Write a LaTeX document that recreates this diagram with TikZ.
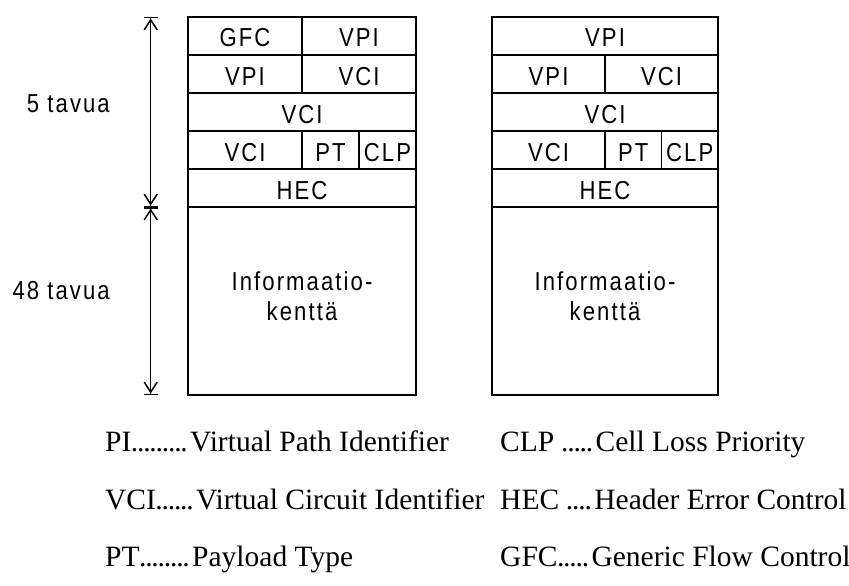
\documentclass[tikz,border=0pt]{standalone}
\usepackage{fontspec}
\setmainfont{Liberation Serif}
\newfontfamily\boxfont{Liberation Sans}[FakeStretch=0.85, LetterSpace=8]
\usetikzlibrary{arrows.meta}
\newcommand\dd{\makebox[6.2pt][c]{.}}
\tikzset{
  cell/.style={draw, line width=1.8pt, minimum height=38pt, inner sep=0pt, outer sep=0pt,
    text height=22pt, text depth=0pt, font=\boxfont\fontsize{26}{30}\selectfont},
  w1/.style={minimum width=114pt},
  w2/.style={minimum width=228pt},
  w3/.style={minimum width=57pt},
  v1/.style={minimum width=113pt},
  v2/.style={minimum width=226pt},
  v3/.style={minimum width=56.5pt},
  infocell/.style={draw, line width=1.8pt, minimum height=188pt, inner sep=0pt, outer sep=0pt},
  infotext/.style={align=center, inner sep=0pt, font=\boxfont\fontsize{26}{30}\selectfont},
  sidelabel/.style={anchor=east, inner sep=0pt, font=\boxfont\fontsize{26}{30}\selectfont},
  legend/.style={anchor=base west, inner sep=0pt, font=\fontsize{29.5}{34}\selectfont},
  dimline/.style={line width=1.3pt},
  dimtips/.style={{Bar[width=14pt,sep=0pt,line width=1.5pt]Straight Barb[width=13pt,length=10pt,sep=0pt,line width=1.5pt]}-{Straight Barb[width=13pt,length=10pt,sep=0pt,line width=1.5pt]Bar[width=14pt,sep=0pt,line width=1.5pt]}}
}
\begin{document}
\begin{tikzpicture}[x=1pt,y=-1pt]
\useasboundingbox (0,0) rectangle (849,586);
% left cell
\node[cell,w1] (lgfc) at (245,36) {GFC};
\node[cell,w1] (lvpi1) at (359,36) {VPI};
\node[cell,w1] (lvpi2) at (245,74) {VPI};
\node[cell,w1] (lvci1) at (359,74) {VCI};
\node[cell,w2] (lvci2) at (302,112) {VCI};
\node[cell,w1] (lvci3) at (245,150) {VCI};
\node[cell,w3] (lpt) at (330.5,150) {PT};
\node[cell,w3] (lclp) at (387.5,150) {CLP};
\node[cell,w2] (lhec) at (302,188) {HEC};
\node[infocell,w2] (linfo) at (302,301) {};
\node[infotext] (linfot) at (302,296) {Informaatio-\\kenttä};
% right cell
\node[cell,v2] (rvpi1) at (605,36) {VPI};
\node[cell,v1] (rvpi2) at (548.5,74) {VPI};
\node[cell,v1] (rvci1) at (661.5,74) {VCI};
\node[cell,v2] (rvci2) at (605,112) {VCI};
\node[cell,v1] (rvci3) at (548.5,150) {VCI};
\node[cell,v3] (rpt) at (633.25,150) {PT};
\node[cell,v3] (rclp) at (689.75,150) {CLP};
\node[cell,v2] (rhec) at (605,188) {HEC};
\node[infocell,v2] (rinfo) at (605,301) {};
\node[infotext] (rinfot) at (605,296) {Informaatio-\\kenttä};
% dimensions
\coordinate (d1) at (150.7,17);
\coordinate (d2) at (150.7,207);
\coordinate (d3) at (150.7,395);
\draw[dimline,dimtips] (d1) -- (d2);
\draw[dimline,dimtips] (d2) -- (d3);
\node[sidelabel] (l5) at (110,104) {5 tavua};
\node[sidelabel] (l48) at (110,291) {48 tavua};
% legend
\node[legend] (g1) at (105,451) {PI\dd\dd\dd\dd\dd\dd\dd\dd\dd\hspace{3pt}Virtual Path Identifier};
\node[legend] (g2) at (105,509) {VCI\dd\dd\dd\dd\dd\dd\hspace{3pt}Virtual Circuit Identifier};
\node[legend] (g3) at (105,566) {PT\dd\dd\dd\dd\dd\dd\dd\dd\hspace{3pt}Payload Type};
\node[legend] (g4) at (500,451) {CLP \dd\dd\dd\dd\dd\hspace{3pt}Cell Loss Priority};
\node[legend] (g5) at (500,509) {HEC \dd\dd\dd\dd\hspace{3pt}Header Error Control};
\node[legend] (g6) at (500,566) {GFC\dd\dd\dd\dd\dd\hspace{3pt}Generic Flow Control};
\end{tikzpicture}
\end{document}
